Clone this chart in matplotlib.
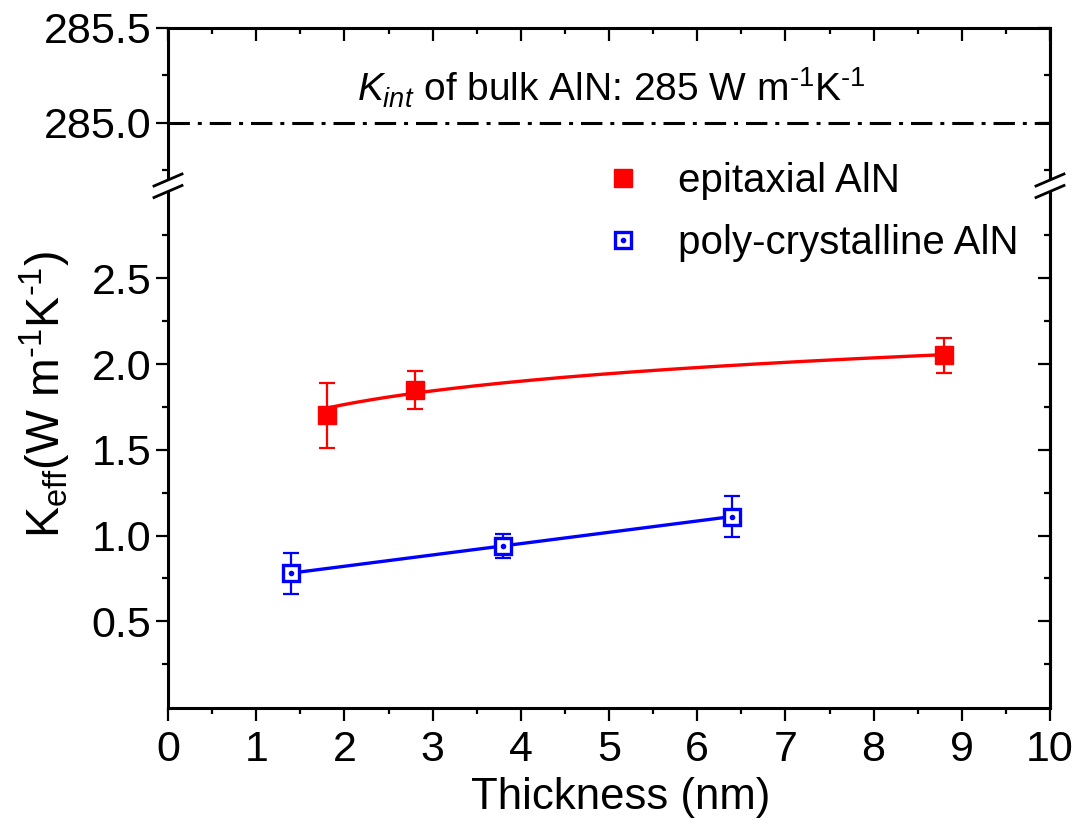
import numpy as np
import matplotlib
matplotlib.use("Agg")
import matplotlib.pyplot as plt
from matplotlib.lines import Line2D
from matplotlib.patches import Polygon
from matplotlib.ticker import FixedLocator, FormatStrFormatter, MultipleLocator

plt.rcParams["font.family"] = ["Liberation Sans", "DejaVu Sans"]
plt.rcParams["mathtext.fontset"] = "custom"
plt.rcParams["mathtext.rm"] = "Liberation Sans"
plt.rcParams["mathtext.it"] = "Liberation Sans:italic"
plt.rcParams["mathtext.bf"] = "Liberation Sans:bold"

# Measured effective thermal conductivity vs. film thickness
epi_thickness = [1.8, 2.8, 8.8]
epi_keff = [1.70, 1.85, 2.05]
epi_err = [0.19, 0.11, 0.10]

poly_thickness = [1.4, 3.8, 6.4]
poly_keff = [0.78, 0.94, 1.11]
poly_err = [0.12, 0.07, 0.12]

bulk_k = 285.0

x_ticks = list(range(0, 11))
low_ticks = [0.5, 1.0, 1.5, 2.0, 2.5]
low_minor = [0.25, 0.75, 1.25, 1.75, 2.25, 2.75]
high_ticks = [285.0, 285.5]
high_minor = [284.75, 285.25]

W, H = 1078, 824
fig = plt.figure(figsize=(W / 100, H / 100), dpi=100)


def fx(px):
    return px / W


def fy(py):
    return 1 - py / H


left, right = 168, 1050
top, brk, bottom = 28, 185.5, 707.5

ax_hi = fig.add_axes([fx(left), fy(brk), (right - left) / W, (brk - top) / H])
ax_lo = fig.add_axes([fx(left), fy(bottom), (right - left) / W, (bottom - brk) / H])

SPINE_W = 2.2
TICK_FS = 31
LABEL_FS = 31.5
HY = "\u2010"  # short hyphen used in the unit exponents

for ax in (ax_hi, ax_lo):
    ax.set_xlim(0, 10)
    for s in ax.spines.values():
        s.set_linewidth(SPINE_W)

ax_hi.set_ylim(284.671, 285.5)
ax_lo.set_ylim(-0.003, 3.041)
ax_hi.spines["bottom"].set_visible(False)
ax_lo.spines["top"].set_visible(False)

# x ticks: outward on the bottom, inward on the top edge
ax_lo.xaxis.set_major_locator(FixedLocator(x_ticks))
ax_lo.xaxis.set_minor_locator(MultipleLocator(0.5))
ax_lo.tick_params(axis="x", which="both", direction="out", top=False, bottom=True,
                  labelsize=TICK_FS, pad=7)
ax_lo.tick_params(axis="x", which="major", length=9, width=1.6)
ax_lo.tick_params(axis="x", which="minor", length=4.5, width=1.6)

ax_hi.xaxis.set_major_locator(FixedLocator(x_ticks))
ax_hi.xaxis.set_minor_locator(MultipleLocator(0.5))
ax_hi.tick_params(axis="x", which="both", direction="in", top=True, bottom=False,
                  labelbottom=False, labeltop=False)
ax_hi.tick_params(axis="x", which="major", length=9, width=1.6)
ax_hi.tick_params(axis="x", which="minor", length=4.5, width=1.6)

# y ticks: outward with labels on the left, inward on the right
for ax, major, minor in ((ax_hi, high_ticks, high_minor), (ax_lo, low_ticks, low_minor)):
    ax.yaxis.set_major_locator(FixedLocator(major))
    ax.yaxis.set_minor_locator(FixedLocator(minor))
    ax.yaxis.set_major_formatter(FormatStrFormatter("%.1f"))
    ax.tick_params(axis="y", which="both", direction="out", left=True, right=False,
                   labelsize=TICK_FS, pad=3)
    ax.tick_params(axis="y", which="major", length=9, width=1.6)
    ax.tick_params(axis="y", which="minor", length=4.5, width=1.6)
    sec = ax.secondary_yaxis("right")
    sec.spines["right"].set_linewidth(SPINE_W)
    sec.yaxis.set_major_locator(FixedLocator(major))
    sec.yaxis.set_minor_locator(FixedLocator(minor))
    sec.tick_params(axis="y", which="both", direction="in", labelright=False)
    sec.tick_params(axis="y", which="major", length=9, width=1.6)
    sec.tick_params(axis="y", which="minor", length=4.5, width=1.6)
    if ax is ax_hi:
        sec.spines["bottom"].set_visible(False)
    else:
        sec.spines["top"].set_visible(False)

# Bulk reference line
ax_hi.axhline(bulk_k, color="black", lw=2.2, linestyle=(0, (7, 2.6, 1.3, 2.6)))
ax_hi.text(5.03, 285.11,
           r"$K_{int}$ of bulk AlN: 285 W m$^{" + HY + r"1}$K$^{" + HY + r"1}$",
           ha="center", va="baseline", fontsize=28)

# Fits
b_e, a_e = np.polyfit(np.log(epi_thickness), epi_keff, 1, w=1 / np.array(epi_err))
xs_e = np.linspace(min(epi_thickness), max(epi_thickness), 300)
ax_lo.plot(xs_e, a_e + b_e * np.log(xs_e), color="red", lw=2.4, zorder=2)

b_p, a_p = np.polyfit(poly_thickness, poly_keff, 1, w=1 / np.array(poly_err))
xs_p = np.linspace(min(poly_thickness), max(poly_thickness), 2)
ax_lo.plot(xs_p, a_p + b_p * xs_p, color="blue", lw=2.4, zorder=2)

# Data with error bars
ax_lo.errorbar(epi_thickness, epi_keff, yerr=epi_err, fmt="none", ecolor="red",
               elinewidth=1.6, capsize=5.5, capthick=1.6, zorder=3)
ax_lo.plot(epi_thickness, epi_keff, "s", color="red", ms=13.5, mec="red", zorder=4)

ax_lo.errorbar(poly_thickness, poly_keff, yerr=poly_err, fmt="none", ecolor="blue",
               elinewidth=1.6, capsize=5.5, capthick=1.6, zorder=3)
ax_lo.plot(poly_thickness, poly_keff, "s", mfc="white", mec="blue", mew=2.4,
           ms=12, zorder=4)
ax_lo.plot(poly_thickness, poly_keff, "o", color="blue", ms=3, zorder=5)

# Labels
ax_lo.set_xlabel("Thickness (nm)", fontsize=LABEL_FS)
ax_lo.xaxis.set_label_coords((621 - left) / (right - left), -(798 - bottom) / (bottom - brk))
ax_lo.xaxis.label.set_va("center")
fig.text(fx(45), fy(395),
         r"K$_{\mathrm{eff}}$(W m$^{" + HY + r"1}$K$^{" + HY + r"1}$)",
         rotation=90, ha="center", va="center", fontsize=33.5)

# Legend
h_epi = Line2D([], [], ls="none", marker="s", color="red", ms=13.5)
h_poly_box = Line2D([], [], ls="none", marker="s", mfc="white", mec="blue", mew=2.4, ms=12)
h_poly_dot = Line2D([], [], ls="none", marker="o", color="blue", ms=3)
fig.legend([h_epi, (h_poly_box, h_poly_dot)], ["epitaxial AlN", "poly-crystalline AlN"],
           loc="center left", bbox_to_anchor=(fx(603), fy(212)), frameon=False,
           fontsize=29, handlelength=1.0, handletextpad=0.87, labelspacing=0.6,
           borderpad=0, borderaxespad=0)

# Axis break marks on both sides
for xc in (left, right):
    y1, y2 = 180.0, 191.5
    dx, dy = 14, 6
    poly = Polygon([[fx(xc - dx), fy(y1 + dy)], [fx(xc + dx), fy(y1 - dy)],
                    [fx(xc + dx), fy(y2 - dy)], [fx(xc - dx), fy(y2 + dy)]],
                   closed=True, transform=fig.transFigure, facecolor="white",
                   edgecolor="none", zorder=10)
    fig.patches.append(poly)
    for yc in (y1, y2):
        fig.lines.append(Line2D([fx(xc - dx), fx(xc + dx)], [fy(yc + dy), fy(yc - dy)],
                                transform=fig.transFigure, color="black", lw=2.0,
                                zorder=11))

fig.savefig("out.png", dpi=100)
